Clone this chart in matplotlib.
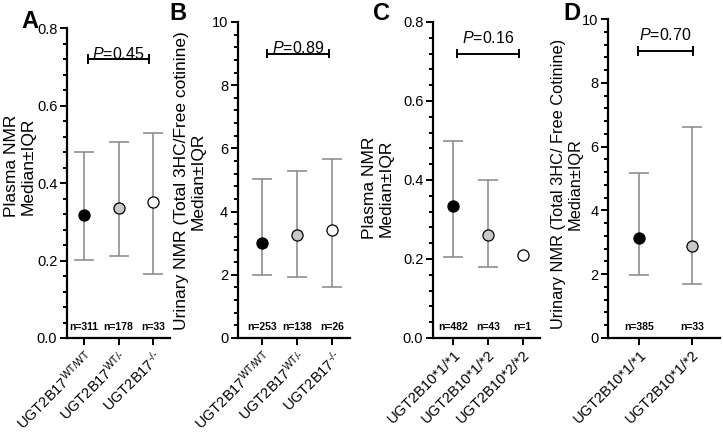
import numpy as np
import matplotlib.pyplot as plt
from matplotlib.ticker import AutoMinorLocator, MultipleLocator
from matplotlib.transforms import blended_transform_factory

plt.rcParams['font.family'] = ['Liberation Sans', 'DejaVu Sans']
plt.rcParams['mathtext.fontset'] = 'custom'
plt.rcParams['mathtext.rm'] = 'Liberation Sans'
plt.rcParams['mathtext.it'] = 'Liberation Sans:italic'

# Panel A - plasma NMR by UGT2B17 genotype
a_labels = ['UGT2B17$^{\\mathrm{WT/WT}}$', 'UGT2B17$^{\\mathrm{WT/\u2010}}$', 'UGT2B17$^{\\mathrm{\u2010/\u2010}}$']
a_med = [0.317, 0.336, 0.352]
a_low = [0.202, 0.212, 0.165]
a_high = [0.48, 0.505, 0.528]
a_n = ['n=311', 'n=178', 'n=33']

# Panel B - urinary NMR by UGT2B17 genotype
b_labels = a_labels
b_med = [3.0, 3.25, 3.42]
b_low = [1.98, 1.94, 1.62]
b_high = [5.02, 5.28, 5.65]
b_n = ['n=253', 'n=138', 'n=26']

# Panel C - plasma NMR by UGT2B10 genotype
c_labels = ['UGT2B10*1/*1', 'UGT2B10*1/*2', 'UGT2B10*2/*2']
c_med = [0.334, 0.262, 0.21]
c_low = [0.206, 0.181, np.nan]
c_high = [0.498, 0.40, np.nan]
c_n = ['n=482', 'n=43', 'n=1']

# Panel D - urinary NMR by UGT2B10 genotype
d_labels = c_labels[:2]
d_med = [3.12, 2.89]
d_low = [1.97, 1.69]
d_high = [5.18, 6.61]
d_n = ['n=385', 'n=33']

face = ['black', '#c8c8c8', 'white']

fig = plt.figure(figsize=(7.23, 4.33), dpi=100)


def panel(rect, labels, med, low, high, nlab, ymax, ystep, xlim, pval, pbar, ptext_gap):
    ax = fig.add_axes(rect)
    x = np.arange(len(med))
    med = np.array(med)
    yerr = [med - np.array(low), np.array(high) - med]
    for i in x:
        if not np.isnan(low[i]):
            ax.errorbar(i, med[i], yerr=[[yerr[0][i]], [yerr[1][i]]], fmt='none',
                        ecolor='#858585', elinewidth=1.1, capsize=7.5, capthick=1.1, zorder=2)
        ax.plot(i, med[i], 'o', ms=8, mfc=face[i], mec='black', mew=0.9, zorder=3)
    ax.set_ylim(0, ymax)
    ax.set_xlim(*xlim)
    ax.yaxis.set_major_locator(MultipleLocator(ystep))
    ax.yaxis.set_minor_locator(AutoMinorLocator(5))
    if ymax < 1:
        ax.yaxis.set_major_formatter(plt.FormatStrFormatter('%.1f'))
    ax.set_xticks(x)
    ax.set_xticklabels(labels, rotation=45, ha='right', rotation_mode='anchor')
    for s in ['top', 'right']:
        ax.spines[s].set_visible(False)
    for s in ['left', 'bottom']:
        ax.spines[s].set_linewidth(1.6)
    ax.tick_params(axis='both', which='major', width=1.4, length=5, labelsize=10.5, pad=2)
    ax.tick_params(axis='y', which='minor', width=1.4, length=3)
    ax.tick_params(axis='x', which='minor', length=0)
    ax.tick_params(axis='x', labelsize=10.5, pad=2)
    # significance bracket
    ax.plot([pbar[0], pbar[1]], [pbar[2], pbar[2]], color='black', lw=1.4)
    ax.plot([pbar[0], pbar[0]], [pbar[2] - ymax * 0.012, pbar[2] + ymax * 0.012], color='black', lw=1.4)
    ax.plot([pbar[1], pbar[1]], [pbar[2] - ymax * 0.012, pbar[2] + ymax * 0.012], color='black', lw=1.4)
    ax.text((pbar[0] + pbar[1]) / 2, pbar[2] + ymax * ptext_gap, r'$\mathit{P}$=' + pval,
            ha='center', va='bottom', fontsize=11.5)
    tr = blended_transform_factory(ax.transData, ax.transAxes)
    for i, t in enumerate(nlab):
        ax.text(i, 0.035, t, transform=tr, ha='center', va='center', fontsize=7.5, fontweight='bold')
    return ax


panel([0.0927, 0.2194, 0.1425, 0.7156], a_labels, a_med, a_low, a_high, a_n,
      0.8, 0.2, (-0.5, 2.5), '0.45', (0.12, 1.88, 0.72), -0.008)
panel([0.329, 0.2194, 0.155, 0.7298], b_labels, b_med, b_low, b_high, b_n,
      10, 2, (-0.7, 2.5), '0.89', (0.12, 1.9, 9.0), -0.008)
panel([0.599, 0.2194, 0.148, 0.7298], c_labels, c_med, c_low, c_high, c_n,
      0.8, 0.2, (-0.58, 2.5), '0.16', (0.12, 1.9, 0.72), 0.025)
panel([0.841, 0.2194, 0.155, 0.7367], d_labels, d_med, d_low, d_high, d_n,
      10, 2, (-0.6, 1.54), '0.70', (-0.03, 1.03, 9.0), 0.025)

# y axis titles
ykw = dict(rotation=90, ha='center', va='center', multialignment='center', fontsize=12.5, linespacing=1.15)
fig.text(20 / 723, 1 - 166 / 433, 'Plasma NMR\nMedian±IQR', **ykw)
fig.text(190 / 723, 1 - 181 / 433, 'Urinary NMR (Total 3HC/Free cotinine)\nMedian±IQR', **ykw)
fig.text(378 / 723, 1 - 188 / 433, 'Plasma NMR\nMedian±IQR', **ykw)
ykw['fontsize'] = 11.8
fig.text(567 / 723, 1 - 184 / 433, 'Urinary NMR (Total 3HC/ Free Cotinine)\nMedian±IQR', **ykw)

# panel letters
for lx, ly, letter in [(30, 22, 'A'), (178, 13, 'B'), (381, 13, 'C'), (572, 13, 'D')]:
    fig.text(lx / 723, 1 - ly / 433, letter, ha='center', va='center', fontsize=17, fontweight='bold')

fig.savefig('out.png', dpi=100)
